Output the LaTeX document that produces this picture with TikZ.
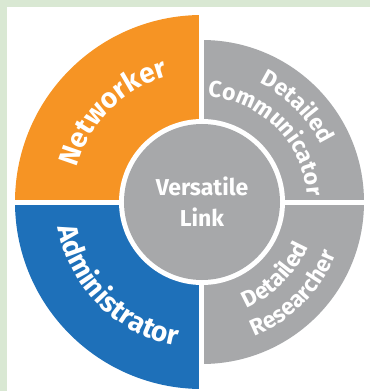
\documentclass[tikz,border=0pt]{standalone}
\usepackage{fontspec}
\setmainfont{Fira Sans}
\usepackage{tikz}
\usetikzlibrary{decorations.text}
\definecolor{bggreen}{RGB}{217,232,211}
\definecolor{netorange}{RGB}{246,148,36}
\definecolor{admblue}{RGB}{30,112,185}
\definecolor{detgray}{RGB}{167,168,170}
\newcommand{\bigfont}{\color{white}\bfseries\fontsize{28}{30}\selectfont}
\newcommand{\smallfont}{\color{white}\bfseries\fontsize{23}{26}\selectfont}

\begin{document}
\begin{tikzpicture}[line cap=round,line join=round,x=1pt,y=1pt,
    arclabel/.style={decorate,decoration={text along path,text align=center,text={#1}}}]
        \useasboundingbox (-202,-189) rectangle (168,202);
        \fill [color=bggreen] (-202,-189) rectangle (168,202);
        \fill [color=white] (-195,-189) rectangle (168,195);
        \fill [color=netorange] (0,0) -- (180:187) arc (180:90:187) -- cycle;
        \fill [color=admblue] (0,0) -- (270:187) arc (270:180:187) -- cycle;
        \fill [color=detgray] (0,0) -- (90:162) arc (90:0:162) -- cycle;
        \fill [color=detgray] (0,0) -- (0:162) arc (0:-90:162) -- cycle;
        \draw [color=white,line width=5pt,line cap=butt] (-190,0) -- (190,0);
        \draw [color=white,line width=5pt,line cap=butt] (0,-190) -- (0,190);
        \fill [color=white] (0,0) circle (83);
        \fill [color=detgray] (0,0) circle (78);
        \path [arclabel={|\bigfont|Networker}] (180:130) arc (180:90:130);
        \path [arclabel={|\bigfont|Administrator}] (180:146) arc (180:270:146);
        \path [arclabel={|\smallfont|Detailed}] (90:132) arc (90:0:132);
        \path [arclabel={|\smallfont|Communicator}] (90:105) arc (90:0:105);
        \path [arclabel={|\smallfont|Detailed}] (270:115) arc (270:360:115);
        \path [arclabel={|\smallfont|Researcher}] (270:144) arc (270:360:144);
        \node (vlink) [align=center,text=white,font=\bfseries\fontsize{23}{31}\selectfont] at (0,0) {Versatile\\Link};
    \end{tikzpicture}
\end{document}
